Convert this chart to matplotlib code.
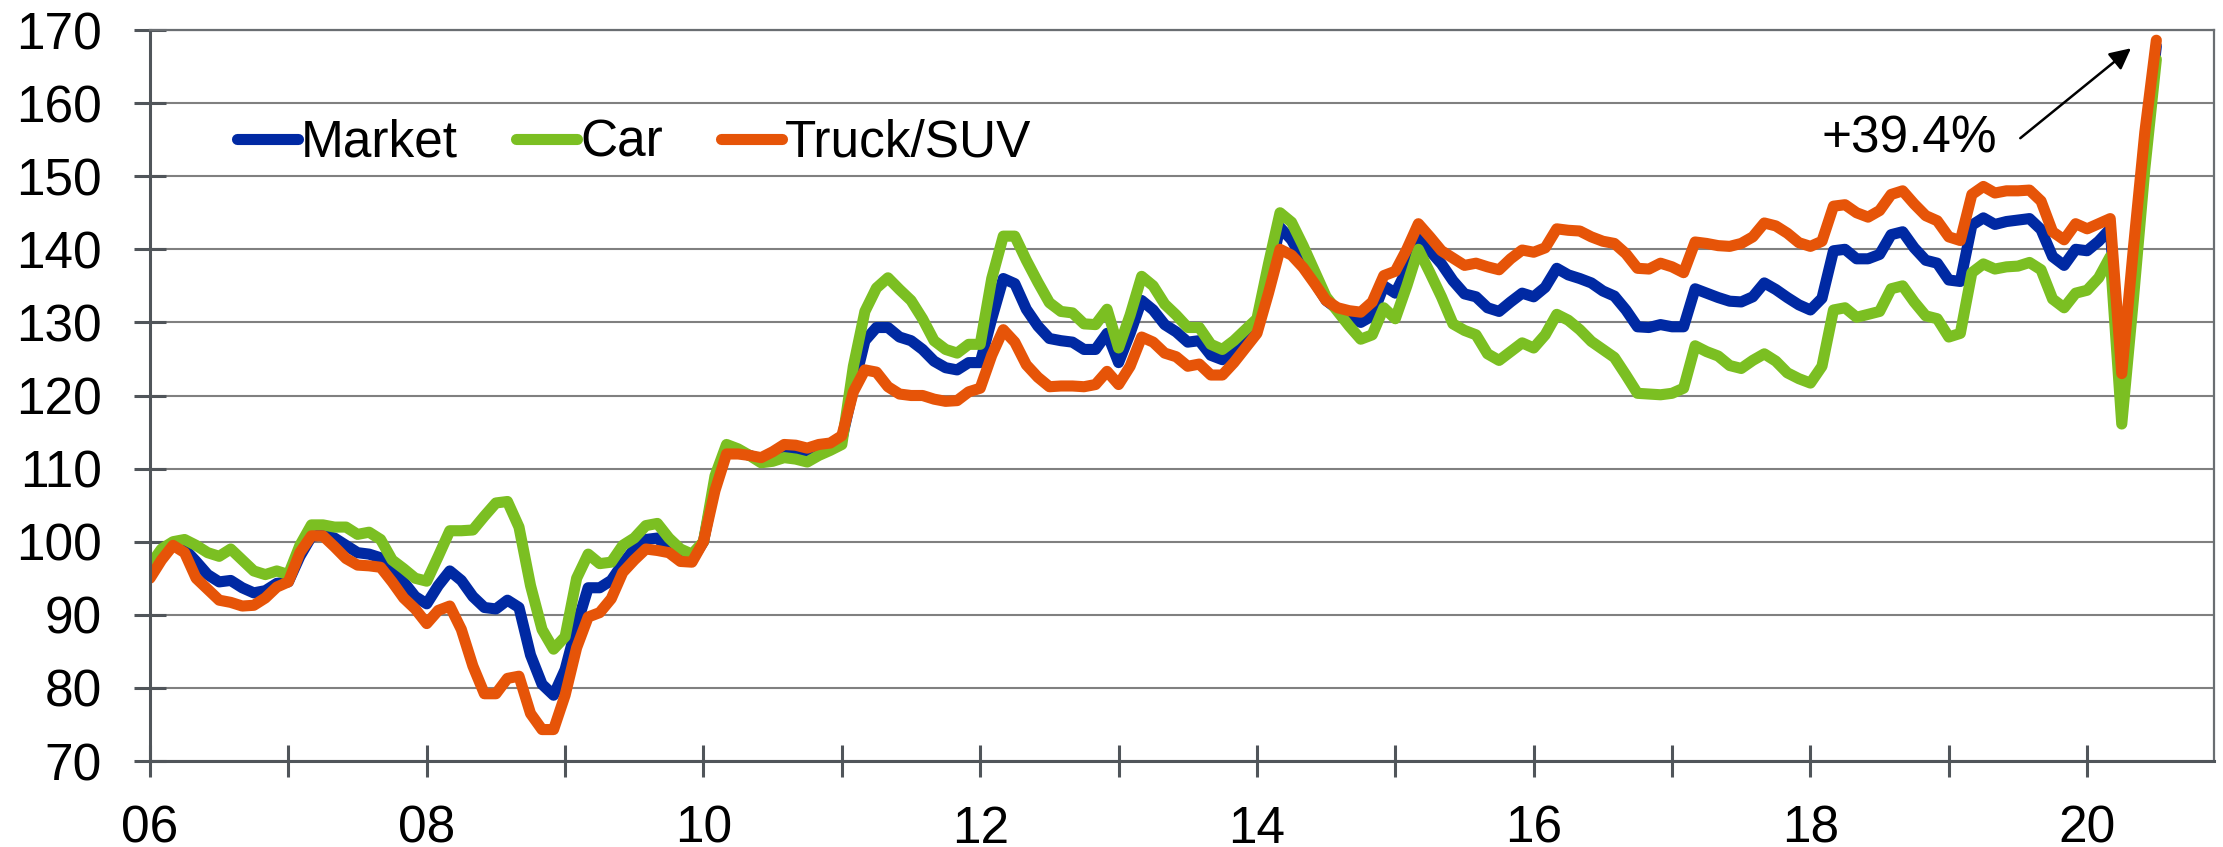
import matplotlib
matplotlib.use("Agg")
import matplotlib.pyplot as plt
import numpy as np

# monthly index values, Jan 2006 .. Jul 2020
market = [
    95.8, 98, 99.5, 99, 97.3, 95.5, 94.5, 94.7, 93.7, 93, 93.3, 94.3,
    94.5, 98, 100.7, 101, 100.5, 99.5, 98.5, 98.3, 97.8, 96, 94.5, 92.5,
    91.5, 94, 96, 94.7, 92.5, 91, 90.8, 92, 91, 84.5, 80.5, 79,
    82.5, 88.5, 93.7, 93.7, 94.7, 97, 99, 100.3, 100.5, 99, 98, 97.5,
    100, 108, 112.5, 112.3, 111.8, 111.3, 111.7, 112.5, 112.3, 112, 112.7, 113,
    114, 121, 127.5, 129.3, 129.3, 128, 127.5, 126.3, 124.7, 123.8, 123.5, 124.5,
    124.5, 130.5, 136, 135.3, 131.8, 129.5, 127.8, 127.5, 127.3, 126.3, 126.3, 128.5,
    124.5, 128.5, 133, 131.7, 129.7, 128.7, 127.3, 127.5, 125.5, 124.9, 126.3, 128,
    129.8, 136, 143, 141.3, 138.5, 135.5, 133, 131.8, 130.8, 130, 130.9, 135,
    134, 137.2, 142, 139.8, 138, 135.7, 133.9, 133.5, 132, 131.5, 132.8, 134,
    133.5, 134.8, 137.4, 136.5, 136, 135.4, 134.3, 133.6, 131.7, 129.4, 129.3, 129.7,
    129.4, 129.4, 134.6, 134, 133.4, 132.9, 132.8, 133.5, 135.4, 134.5, 133.4, 132.4,
    131.7, 133.3, 139.8, 140, 138.7, 138.7, 139.3, 142, 142.4, 140.2, 138.5, 138.1,
    135.8, 135.6, 143.3, 144.3, 143.4, 143.8, 144, 144.2, 142.7, 139, 137.8, 140,
    139.8, 141.1, 142.8, 121, 138, 154, 167.8,
]
car = [
    96.8, 99, 100, 100.3, 99.5, 98.5, 98, 99, 97.5, 96, 95.5, 96,
    95.5, 99.5, 102.3, 102.3, 102, 102, 101, 101.3, 100.3, 97.5, 96.3, 95,
    94.6, 98, 101.5, 101.5, 101.6, 103.5, 105.3, 105.5, 102, 94, 88, 85.3,
    87, 95, 98.3, 97, 97.2, 99.5, 100.5, 102.2, 102.5, 100.5, 99, 98.3,
    100, 109, 113.3, 112.7, 111.8, 110.8, 111, 111.5, 111.3, 110.9, 111.8, 112.5,
    113.3, 124, 131.5, 134.7, 136.1, 134.5, 133, 130.5, 127.5, 126.3, 125.8, 127,
    127, 136, 141.8, 141.8, 138.5, 135.5, 132.7, 131.5, 131.3, 129.8, 129.7, 131.8,
    126.5, 131, 136.3, 135, 132.5, 131, 129.3, 129.3, 127, 126.3, 127.5, 129,
    130.5, 138, 145, 143.7, 140.5, 137, 133.5, 131.5, 129.5, 127.7, 128.3, 132,
    130.5, 135, 140, 136.8, 133.5, 129.8, 128.9, 128.3, 125.7, 124.8, 126, 127.2,
    126.5, 128.3, 131.1, 130.3, 129, 127.4, 126.3, 125.2, 122.8, 120.3, 120.2, 120.1,
    120.3, 121, 126.8, 126, 125.4, 124.1, 123.7, 124.8, 125.7, 124.7, 123.1, 122.3,
    121.7, 124, 131.7, 132, 130.7, 131.1, 131.5, 134.6, 135, 132.8, 130.9, 130.5,
    128, 128.5, 136.8, 138, 137.3, 137.6, 137.7, 138.2, 137.2, 133.2, 132, 134,
    134.4, 136.1, 139, 116.1, 133, 151, 166,
]
truck = [
    95, 97.5, 99.5, 98.5, 95, 93.5, 92, 91.7, 91.2, 91.3, 92.3, 93.8,
    94.5, 98.5, 100.8, 100.8, 99.3, 97.7, 96.8, 96.7, 96.5, 94.5, 92.3, 90.8,
    88.8, 90.6, 91.2, 88, 83, 79.2, 79.2, 81.3, 81.6, 76.5, 74.3, 74.3,
    79, 85.5, 89.7, 90.3, 92.2, 95.8, 97.5, 99, 98.8, 98.5, 97.3, 97.2,
    100, 107, 112, 112, 111.8, 111.5, 112.3, 113.3, 113.2, 112.8, 113.3, 113.5,
    114.5, 120.5, 123.5, 123.2, 121.2, 120.2, 120, 120, 119.5, 119.2, 119.3, 120.5,
    121, 125.5, 129, 127.3, 124.2, 122.5, 121.2, 121.3, 121.3, 121.2, 121.5, 123.3,
    121.5, 124, 128, 127.3, 125.8, 125.3, 124, 124.3, 122.8, 122.8, 124.5, 126.5,
    128.5, 134, 140, 139.2, 137.5, 135.3, 133, 132, 131.6, 131.4, 132.8, 136.4,
    137, 140, 143.5, 141.7, 139.8, 138.8, 137.8, 138.1, 137.6, 137.2, 138.7, 139.9,
    139.6, 140.2, 142.8, 142.6, 142.5, 141.7, 141.1, 140.8, 139.4, 137.4, 137.3, 138.1,
    137.6, 136.8, 141, 140.8, 140.5, 140.4, 140.8, 141.7, 143.6, 143.2, 142.2, 140.9,
    140.4, 141.1, 145.9, 146.1, 145, 144.4, 145.3, 147.5, 148, 146.2, 144.6, 143.9,
    141.7, 141.2, 147.5, 148.6, 147.7, 148, 148, 148.1, 146.6, 142.4, 141.3, 143.5,
    142.8, 143.5, 144.2, 123, 140, 156, 168.6,
]
year_labels = ["06", "08", "10", "12", "14", "16", "18", "20"]
note = "+39.4%"

plt.rcParams["font.family"] = ["Liberation Sans", "DejaVu Sans"]
fs = 37

fig = plt.figure(figsize=(22.23, 8.47), dpi=100)
ax = fig.add_axes([150 / 2223, 1 - 761 / 847, 2064 / 2223, 731 / 847])

x = np.arange(len(market))
lw = 8
ax.plot(x, market, color="#0029A3", lw=lw, label="Market",
        solid_joinstyle="round", solid_capstyle="round")
ax.plot(x, car, color="#7BBF22", lw=lw, label="Car",
        solid_joinstyle="round", solid_capstyle="round")
ax.plot(x, truck, color="#E65408", lw=lw, label="Truck/SUV",
        solid_joinstyle="round", solid_capstyle="round")

ax.set_xlim(0, 179)
ax.set_ylim(70, 170)
ax.set_yticks(np.arange(70, 171, 10))
ax.set_xticks(np.arange(0, 180, 24))
ax.set_xticklabels(year_labels)
ax.set_xticks(np.arange(12, 180, 24), minor=True)

ax.grid(axis="y", color="#808080", lw=1.5)
ax.set_axisbelow(True)
for side in ["left", "bottom"]:
    ax.spines[side].set_color("#50555a")
    ax.spines[side].set_linewidth(2.2)
for side in ["top", "right"]:
    ax.spines[side].set_color("#6a6e72")
    ax.spines[side].set_linewidth(1.6)

ax.tick_params(axis="both", which="both", direction="inout", length=23,
               width=2.2, color="#50555a", labelsize=fs)
ax.tick_params(axis="y", pad=23)
ax.tick_params(axis="x", pad=20)

leg = ax.legend(loc="center left", bbox_to_anchor=(0.042, 0.845), ncol=3,
                frameon=False, fontsize=fs, handlelength=1.19,
                handletextpad=0.06, columnspacing=1.13, borderpad=0,
                borderaxespad=0)

ax.text(145, 155.1, note, fontsize=fs, ha="left", va="center")
ax.annotate("", xy=(171.8, 167.5), xytext=(162.2, 155.2),
            arrowprops=dict(arrowstyle="-|>", color="black", lw=1.8,
                            mutation_scale=32, shrinkA=0, shrinkB=0))

fig.savefig("out.png", dpi=100)
